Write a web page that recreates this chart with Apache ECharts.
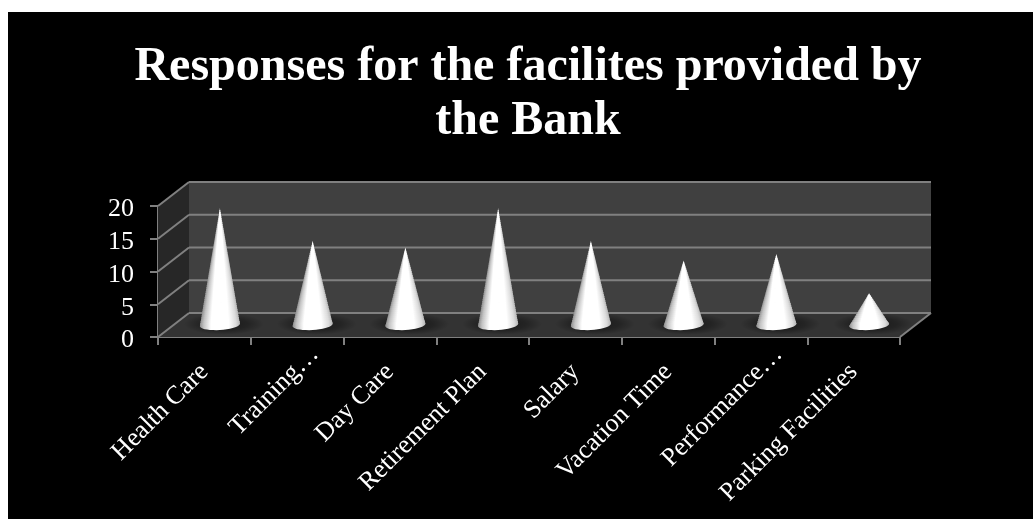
<!DOCTYPE html>
<html>
<head>
<meta charset="utf-8">
<style>html,body{margin:0;padding:0;background:#fff;overflow:hidden}#frame{position:absolute;left:8px;top:12px;width:1025px;height:507px;}</style>
<script src="https://cdn.jsdelivr.net/npm/echarts@6/dist/echarts.min.js"></script>
</head>
<body>
<div id="frame"></div>
<script>
const chartTitle = 'Responses for the facilites provided by\nthe Bank';
const categories = ['Health Care', 'Training…', 'Day Care', 'Retirement Plan', 'Salary', 'Vacation Time', 'Performance…', 'Parking Facilities'];
const responses = [18, 13, 12, 18, 13, 10, 11, 5];
const valueTicks = [0, 5, 10, 15, 20];

const FONT = '"Liberation Serif","Times New Roman",serif';
const DEPTH_X = 31, DEPTH_Y = -24;   // oblique offset from front plane to back wall
const RAIL = '#808080';

// Walls, floor and gridlines of the oblique box, anchored to the grid and value scale.
function renderBox(params, api) {
  const cs = params.coordSys;
  const fl = cs.x, fr = cs.x + cs.width;
  const y0 = api.coord([0, 0])[1], yT = api.coord([0, valueTicks[valueTicks.length - 1]])[1];
  const poly = (pts, fill) => ({type: 'polygon', shape: {points: pts}, style: {fill}});
  const line = (x1, y1, x2, y2) => ({type: 'line', shape: {x1, y1, x2, y2}, style: {stroke: RAIL, lineWidth: 2}});
  const kids = [
    poly([[fl, yT], [fl + DEPTH_X, yT + DEPTH_Y], [fl + DEPTH_X, y0 + DEPTH_Y], [fl, y0]], '#272727'),
    poly([[fl + DEPTH_X, yT + DEPTH_Y], [fr + DEPTH_X, yT + DEPTH_Y], [fr + DEPTH_X, y0 + DEPTH_Y], [fl + DEPTH_X, y0 + DEPTH_Y]], '#404040'),
    poly([[fl, y0], [fl + DEPTH_X, y0 + DEPTH_Y], [fr + DEPTH_X, y0 + DEPTH_Y], [fr, y0]], '#333333')
  ];
  valueTicks.forEach(t => {
    const y = api.coord([0, t])[1];
    kids.push(line(fl, y, fl + DEPTH_X, y + DEPTH_Y));
    kids.push(line(fl + DEPTH_X, y + DEPTH_Y, fr + DEPTH_X, y + DEPTH_Y));
  });
  kids.push(line(fr, y0, fr + DEPTH_X, y0 + DEPTH_Y));
  return {type: 'group', children: kids};
}

// Horizontal shading across the cone surface, re-applied to every slice of it.
const coneShade = () => new echarts.graphic.LinearGradient(0, 0, 1, 0, [
  {offset: 0, color: '#8c8c8c'}, {offset: 0.1, color: '#c4c4c4'},
  {offset: 0.28, color: '#ffffff'}, {offset: 0.72, color: '#ffffff'},
  {offset: 0.9, color: '#dcdcdc'}, {offset: 1, color: '#b4b4b4'}
]);

// One cone with a soft floor shadow, standing halfway into the box depth.
// The surface is stacked from thin slices so the shading narrows towards the tip.
function renderCone(params, api) {
  const i = api.value(0), v = api.value(1);
  const base = api.coord([i, 0]), tip = api.coord([i, v]);
  const cx = base[0] + DEPTH_X / 2, by = base[1] + DEPTH_Y / 2;
  const ty = tip[1] + DEPTH_Y / 2 + 1;
  const rx = 20, ry = 5, tilt = 1.2;
  const halfWidth = y => rx * (y - ty) / (by - ty);
  const glow = new echarts.graphic.RadialGradient(0.5, 0.5, 0.5, [
    {offset: 0, color: 'rgba(0,0,0,0.5)'}, {offset: 0.6, color: 'rgba(0,0,0,0.3)'},
    {offset: 1, color: 'rgba(0,0,0,0)'}
  ]);
  const kids = [{
    type: 'circle', x: cx + 4, y: by - 1, scaleY: 0.27,
    shape: {cx: 0, cy: 0, r: 40}, style: {fill: glow}
  }];
  const rise = y => tilt * halfWidth(y) / rx;
  for (let y = ty; y < by; y += 2) {
    const y2 = Math.min(y + 3, by);
    const w1 = halfWidth(y), w2 = halfWidth(y2);
    kids.push({
      type: 'polygon',
      shape: {points: [[cx - w1, y + rise(y)], [cx + w1, y - rise(y)], [cx + w2, y2 - rise(y2)], [cx - w2, y2 + rise(y2)]]},
      style: {fill: coneShade()}
    });
  }
  // Front half of the base ellipse closes the bottom of the cone, overlapping the last slices.
  const lap = by - 3, lapW = halfWidth(lap);
  const rim = [[cx - lapW, lap + rise(lap)], [cx + lapW, lap - rise(lap)]];
  for (let a = 0; a <= 180; a += 10) {
    const r = a * Math.PI / 180;
    rim.push([cx + rx * Math.cos(r), by + ry * Math.sin(r) - tilt * Math.cos(r)]);
  }
  kids.push({type: 'polygon', shape: {points: rim}, style: {fill: coneShade()}});
  return {type: 'group', children: kids};
}

const chart = echarts.init(document.getElementById('frame'), null, {renderer: 'canvas'});
chart.setOption({
  backgroundColor: '#000000',
  animation: false,
  title: {
    text: chartTitle, left: 515, top: 24, textAlign: 'center',
    textStyle: {color: '#fff', fontFamily: FONT, fontWeight: 'bold', fontSize: 48, lineHeight: 54}
  },
  grid: {left: 150, top: 194, width: 742, height: 131},
  xAxis: {
    type: 'category', data: categories, boundaryGap: true,
    axisLine: {show: true, lineStyle: {color: RAIL, width: 2}},
    axisTick: {show: true, alignWithLabel: false, length: 8, lineStyle: {color: RAIL, width: 2}},
    axisLabel: {
      color: '#fff', fontFamily: FONT, fontSize: 26, rotate: 45, interval: 0, margin: 31,
      // Truncated names sit further along the slant than whole ones.
      formatter: name => name.endsWith('…') ? '{cut|' + name + '}' : name,
      rich: {cut: {color: '#fff', fontFamily: FONT, fontSize: 26, padding: [0, -25, 0, 0]}}
    },
    splitLine: {show: false}
  },
  yAxis: {
    type: 'value', min: 0, max: 20, interval: 5,
    axisLine: {show: true, lineStyle: {color: RAIL, width: 2}},
    axisTick: {show: true, length: 8, lineStyle: {color: RAIL, width: 2}},
    axisLabel: {color: '#fff', fontFamily: FONT, fontSize: 26, margin: 24, verticalAlign: 'top', lineHeight: 7},
    splitLine: {show: false}
  },
  series: [
    {type: 'custom', renderItem: renderBox, data: [[0, 0]], z: 1, silent: true, clip: false},
    {type: 'custom', renderItem: renderCone, data: responses.map((v, i) => [i, v]), encode: {x: 0, y: 1}, z: 3, clip: false}
  ]
});
</script>
</body>
</html>
